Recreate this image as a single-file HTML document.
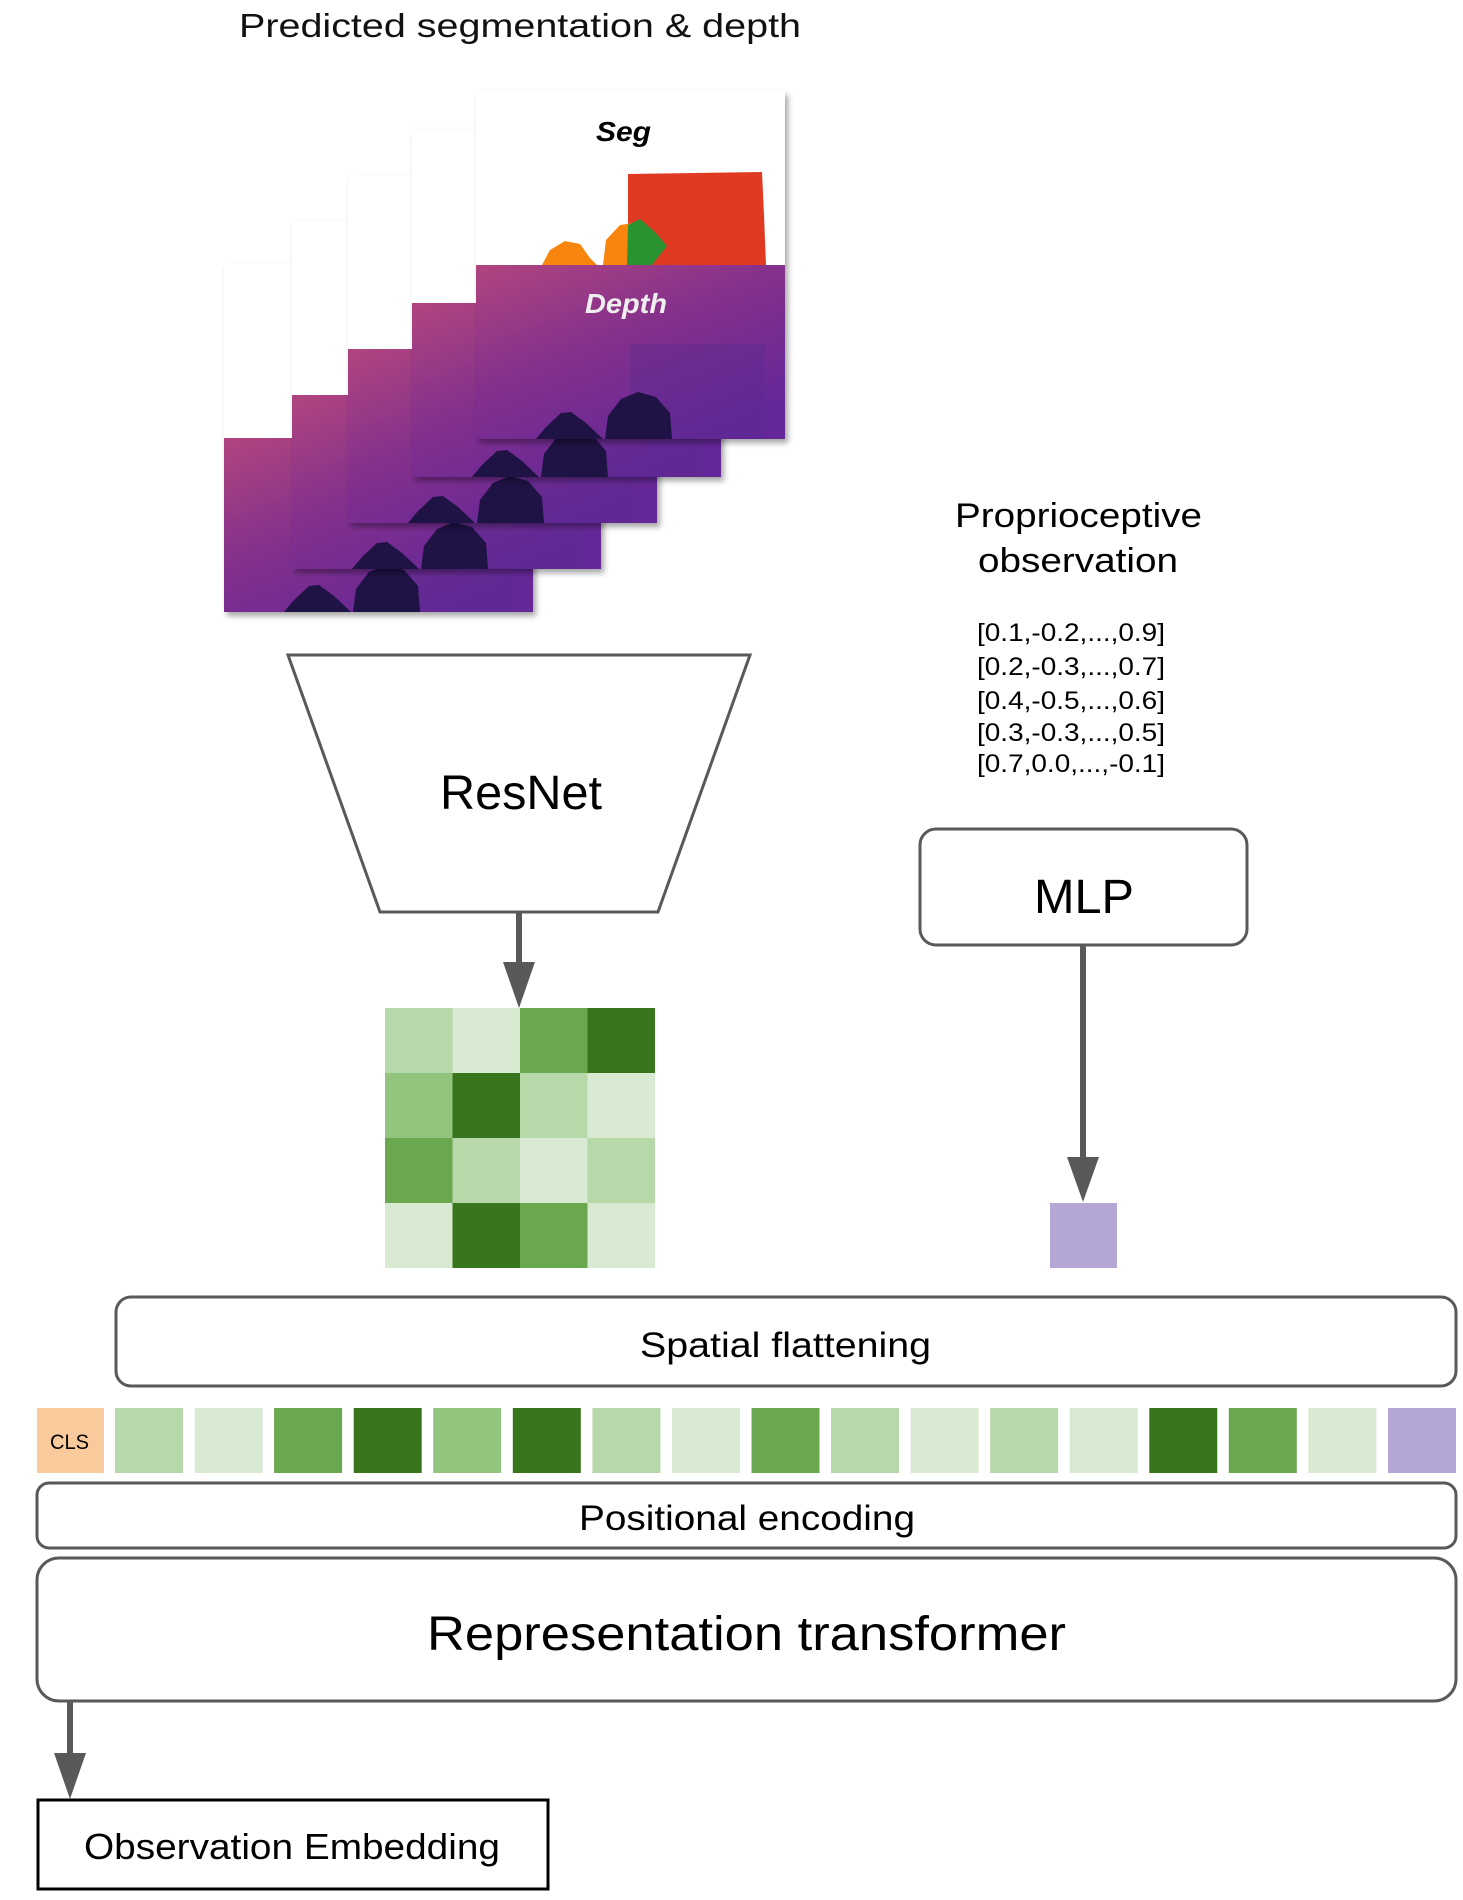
<!DOCTYPE html>
<html><head><meta charset="utf-8"><style>html,body{margin:0;padding:0;background:#fff}svg{display:block}</style></head>
<body>
<svg width="1463" height="1900" viewBox="0 0 1463 1900" xmlns="http://www.w3.org/2000/svg" font-family="'Liberation Sans', sans-serif">
<defs>
  <linearGradient id="dg" x1="0" y1="0" x2="0.7" y2="1">
    <stop offset="0" stop-color="#b0457f"/>
    <stop offset="0.5" stop-color="#83308c"/>
    <stop offset="1" stop-color="#652798"/>
  </linearGradient>
  <filter id="sh" x="-10%" y="-10%" width="130%" height="130%">
    <feDropShadow dx="3" dy="4" stdDeviation="3" flood-color="#000" flood-opacity="0.35"/>
  </filter>
  <g id="card">
    <rect x="0" y="0" width="309" height="348" fill="#fff" filter="url(#sh)"/>
    <rect x="0" y="174" width="309" height="174" fill="url(#dg)"/>
    <rect x="154" y="253" width="135" height="95" fill="#5a2a90" opacity="0.35"/>
    <path d="M60 348 L70 336 L85 322 L95 321 L110 332 L127 348 Z" fill="#1f1245"/>
    <path d="M129 348 L132 325 L145 308 L162 301 L180 306 L194 322 L196 348 Z" fill="#1f1245"/>
  </g>
</defs>

<text x="239" y="37" font-size="33" textLength="562" lengthAdjust="spacingAndGlyphs" fill="#111">Predicted segmentation &amp; depth</text>

<use href="#card" x="224" y="264"/>
<use href="#card" x="292" y="221"/>
<use href="#card" x="348" y="175"/>
<use href="#card" x="412" y="129"/>
<g>
  <use href="#card" x="476" y="91"/>
  <rect x="476" y="91" width="309" height="174" fill="#fff"/>
  <path d="M628 265 L628 174 L762 172 L764 215 L766 265 Z" fill="#e03a22"/>
  <path d="M542 265 L550 250 L565 241 L580 244 L590 258 L597 265 Z" fill="#f8860e"/>
  <path d="M603 265 L606 240 L620 225 L633 223 L636 265 Z" fill="#f8860e"/>
  <path d="M627 265 L628 225 L640 219 L655 232 L667 246 L652 265 Z" fill="#2a9230"/>
  <text x="596" y="141" font-size="28" font-weight="bold" font-style="italic" textLength="55" lengthAdjust="spacingAndGlyphs" fill="#000">Seg</text>
  <text x="585" y="313" font-size="28" font-weight="bold" font-style="italic" textLength="82" lengthAdjust="spacingAndGlyphs" fill="#eee">Depth</text>
</g>

<!-- ResNet trapezoid -->
<polygon points="288,655 750,655 658,912 380,912" fill="#fff" stroke="#595959" stroke-width="3"/>
<text x="440" y="809" font-size="48" textLength="162" lengthAdjust="spacingAndGlyphs" fill="#000">ResNet</text>
<line x1="519" y1="912" x2="519" y2="965" stroke="#595959" stroke-width="6"/>
<polygon points="503,962 535,962 519,1008" fill="#595959"/>

<!-- grid -->
<g>
  <rect x="385" y="1008" width="67.5" height="65" fill="#b7d8a8"/>
  <rect x="452.5" y="1008" width="67.5" height="65" fill="#d9ead3"/>
  <rect x="520" y="1008" width="67.5" height="65" fill="#6aa84f"/>
  <rect x="587.5" y="1008" width="67.5" height="65" fill="#38761d"/>
  <rect x="385" y="1073" width="67.5" height="65" fill="#93c47d"/>
  <rect x="452.5" y="1073" width="67.5" height="65" fill="#38761d"/>
  <rect x="520" y="1073" width="67.5" height="65" fill="#b7d8a8"/>
  <rect x="587.5" y="1073" width="67.5" height="65" fill="#d9ead3"/>
  <rect x="385" y="1138" width="67.5" height="65" fill="#6aa84f"/>
  <rect x="452.5" y="1138" width="67.5" height="65" fill="#b7d8a8"/>
  <rect x="520" y="1138" width="67.5" height="65" fill="#d9ead3"/>
  <rect x="587.5" y="1138" width="67.5" height="65" fill="#b7d8a8"/>
  <rect x="385" y="1203" width="67.5" height="65" fill="#d9ead3"/>
  <rect x="452.5" y="1203" width="67.5" height="65" fill="#38761d"/>
  <rect x="520" y="1203" width="67.5" height="65" fill="#6aa84f"/>
  <rect x="587.5" y="1203" width="67.5" height="65" fill="#d9ead3"/>
</g>

<!-- Proprioceptive -->
<text x="955" y="527" font-size="34" textLength="247" lengthAdjust="spacingAndGlyphs" fill="#000">Proprioceptive</text>
<text x="978" y="572" font-size="34" textLength="200" lengthAdjust="spacingAndGlyphs" fill="#000">observation</text>
<g font-size="25" fill="#000">
  <text x="977" y="641" textLength="188" lengthAdjust="spacingAndGlyphs">[0.1,-0.2,...,0.9]</text>
  <text x="977" y="675" textLength="188" lengthAdjust="spacingAndGlyphs">[0.2,-0.3,...,0.7]</text>
  <text x="977" y="709" textLength="188" lengthAdjust="spacingAndGlyphs">[0.4,-0.5,...,0.6]</text>
  <text x="977" y="741" textLength="188" lengthAdjust="spacingAndGlyphs">[0.3,-0.3,...,0.5]</text>
  <text x="977" y="772" textLength="188" lengthAdjust="spacingAndGlyphs">[0.7,0.0,...,-0.1]</text>
</g>

<!-- MLP -->
<rect x="920" y="829" width="327" height="116" rx="16" fill="#fff" stroke="#595959" stroke-width="3"/>
<text x="1034" y="913" font-size="48" textLength="100" lengthAdjust="spacingAndGlyphs" fill="#000">MLP</text>
<line x1="1083" y1="945" x2="1083" y2="1160" stroke="#595959" stroke-width="6"/>
<polygon points="1067,1157 1099,1157 1083,1202" fill="#595959"/>
<rect x="1050" y="1203" width="67" height="65" fill="#b4a7d6"/>

<!-- Spatial flattening -->
<rect x="116" y="1297" width="1340" height="89" rx="15" fill="#fff" stroke="#595959" stroke-width="3"/>
<text x="640" y="1357" font-size="35" textLength="291" lengthAdjust="spacingAndGlyphs" fill="#000">Spatial flattening</text>

<!-- tokens -->
<rect x="37" y="1408" width="67" height="65" fill="#f9cb9c"/>
<text x="50" y="1449" font-size="21" textLength="39" lengthAdjust="spacingAndGlyphs" fill="#000">CLS</text>
<g>
  <rect x="115" y="1408" width="68" height="65" fill="#b7d8a8"/>
  <rect x="194.6" y="1408" width="68" height="65" fill="#d9ead3"/>
  <rect x="274.1" y="1408" width="68" height="65" fill="#6aa84f"/>
  <rect x="353.7" y="1408" width="68" height="65" fill="#38761d"/>
  <rect x="433.2" y="1408" width="68" height="65" fill="#93c47d"/>
  <rect x="512.8" y="1408" width="68" height="65" fill="#38761d"/>
  <rect x="592.4" y="1408" width="68" height="65" fill="#b7d8a8"/>
  <rect x="671.9" y="1408" width="68" height="65" fill="#d9ead3"/>
  <rect x="751.5" y="1408" width="68" height="65" fill="#6aa84f"/>
  <rect x="831" y="1408" width="68" height="65" fill="#b7d8a8"/>
  <rect x="910.6" y="1408" width="68" height="65" fill="#d9ead3"/>
  <rect x="990.2" y="1408" width="68" height="65" fill="#b7d8a8"/>
  <rect x="1069.7" y="1408" width="68" height="65" fill="#d9ead3"/>
  <rect x="1149.3" y="1408" width="68" height="65" fill="#38761d"/>
  <rect x="1228.8" y="1408" width="68" height="65" fill="#6aa84f"/>
  <rect x="1308.4" y="1408" width="68" height="65" fill="#d9ead3"/>
  <rect x="1388" y="1408" width="68" height="65" fill="#b4a7d6"/>
</g>

<!-- Positional encoding -->
<rect x="37" y="1483" width="1419" height="65" rx="12" fill="#fff" stroke="#595959" stroke-width="3"/>
<text x="579" y="1530" font-size="35" textLength="336" lengthAdjust="spacingAndGlyphs" fill="#000">Positional encoding</text>

<!-- Representation transformer -->
<rect x="37" y="1558" width="1419" height="143" rx="22" fill="#fff" stroke="#595959" stroke-width="3"/>
<text x="427" y="1650" font-size="48" textLength="639" lengthAdjust="spacingAndGlyphs" fill="#000">Representation transformer</text>

<line x1="70" y1="1701" x2="70" y2="1756" stroke="#595959" stroke-width="6"/>
<polygon points="54,1753 86,1753 70,1799" fill="#595959"/>

<rect x="38" y="1800" width="510" height="89" fill="#fff" stroke="#000" stroke-width="3"/>
<text x="84" y="1859" font-size="36" textLength="416" lengthAdjust="spacingAndGlyphs" fill="#000">Observation Embedding</text>
</svg>
</body></html>
